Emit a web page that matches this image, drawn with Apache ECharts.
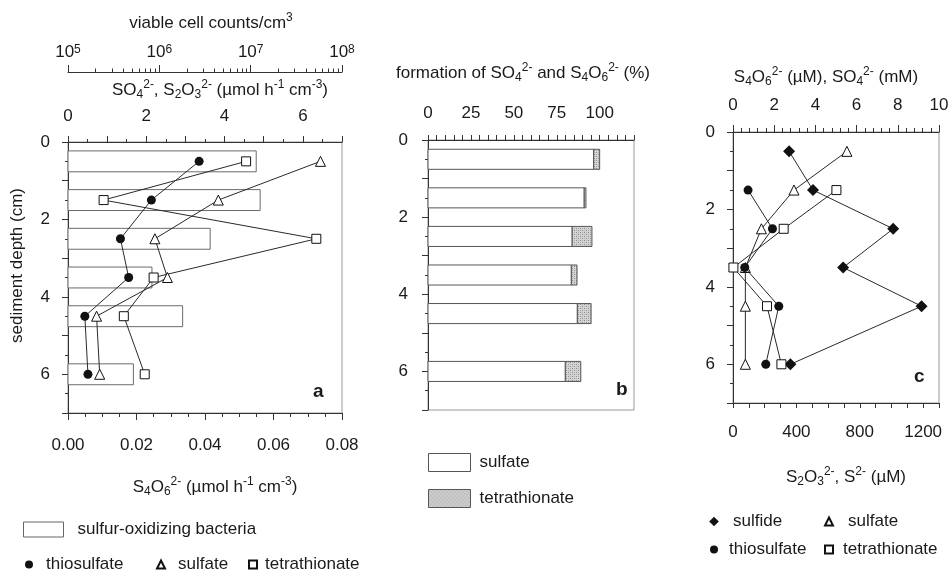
<!DOCTYPE html>
<html><head><meta charset="utf-8">
<script src="https://cdn.jsdelivr.net/npm/echarts@6/dist/echarts.min.js"></script>
<style>html,body{margin:0;padding:0;background:#fff}#chart{width:949px;height:571px}</style>
</head><body><div id="chart"></div>
<script>
// ---------- data ----------
// panel a
const depthA = [0.5, 1.5, 2.5, 3.5, 4.5, 6];
const bacteriaCounts = [1.15e7, 1.27e7, 3.6e6, 8.3e5, 1.8e6, 5.2e5];   // viable cell counts / cm3
const thiosulfateRateA = [3.35, 2.13, 1.34, 1.55, 0.43, 0.51];          // µmol h-1 cm-3
const sulfateRateA = [6.45, 3.84, 2.22, 2.54, 0.73, 0.81];              // µmol h-1 cm-3
const tetrathionateRateA = [0.052, 0.0104, 0.0725, 0.025, 0.0163, 0.0224]; // µmol h-1 cm-3
// panel b
const depthB = [0.5, 1.5, 2.5, 3.5, 4.5, 6];
const sulfatePctB = [96.5, 91, 84, 83.5, 87, 80];
const tetrathionatePctB = [3.5, 1, 11.5, 3.3, 8, 9];
// panel c
const depthC = [0.5, 1.5, 2.5, 3.5, 4.5, 6];
const sulfideC = [354, 505, 1011, 695, 1190, 362];       // µM
const sulfateC = [5.53, 2.96, 1.38, 0.6, 0.6, 0.6];      // mM
const depthC2 = [1.5, 2.5, 3.5, 4.5, 6];
const thiosulfateC = [95, 249, 74, 289, 207];            // µM
const tetrathionateC = [5.02, 2.46, 0.02, 1.65, 2.35];   // µM
// log-axis minor tick values (cell counts: 2..9 x each decade)
const logMinorTicks = [];
for (let e = 5; e < 8; e++) for (let m = 2; m < 10; m++) logMinorTicks.push(m * Math.pow(10, e));

// ---------- style ----------
const FONT = 'Liberation Sans, Arial, sans-serif';
const TC = '#1a1a1a';
const AX = '#333';
const FS = 17;
const RICH = {
  sub: {fontSize: 12, fontFamily: FONT, color: TC, verticalAlign: 'bottom', lineHeight: 12},
  sup: {fontSize: 12, fontFamily: FONT, color: TC, verticalAlign: 'top', lineHeight: 12}
};
// stippled grey fill for tetrathionate
const stipple = document.createElement('canvas');
stipple.width = 4; stipple.height = 4;
(function () {
  const g = stipple.getContext('2d');
  g.fillStyle = '#d4d4d4'; g.fillRect(0, 0, 4, 4);
  g.fillStyle = '#8c8c8c'; g.fillRect(0, 0, 1, 1); g.fillRect(2, 2, 1, 1);
  g.fillStyle = '#b0b0b0'; g.fillRect(2, 0, 1, 1); g.fillRect(0, 2, 1, 1);
})();
const STIPPLE = {image: stipple, repeat: 'repeat'};
const LOG_AXIS_OFFSET = 70;

function nameStyle(pad) {
  return {fontSize: FS, fontFamily: FONT, color: TC, lineHeight: 22, rich: RICH, padding: pad || 0};
}
function every(step, fmt) {
  return function (v) {
    const k = v / step;
    return Math.abs(k - Math.round(k)) < 1e-6 ? fmt(v) : '';
  };
}
function axisBase(o) {
  const base = {
    axisLine: {show: true, onZero: false, lineStyle: {color: AX, width: 1}},
    axisTick: {show: true, length: 5, lineStyle: {color: AX, width: 1}},
    splitLine: {show: false},
    axisLabel: {color: TC, fontSize: FS, fontFamily: FONT},
    nameTextStyle: nameStyle()
  };
  for (const k in o) {
    if (base[k] && typeof base[k] === 'object' && typeof o[k] === 'object' && !Array.isArray(o[k])) base[k] = Object.assign({}, base[k], o[k]);
    else base[k] = o[k];
  }
  return base;
}
function depthAxis(grid, margin, extra) {
  return axisBase(Object.assign({
    type: 'value', gridIndex: grid, min: 0, max: 7, interval: 1, inverse: true, position: 'left',
    axisTick: {length: 6},
    minorTick: {show: true, splitNumber: 2, length: 3, lineStyle: {color: AX}},
    axisLabel: {margin: margin, formatter: every(2, v => String(v))}
  }, extra || {}));
}
const zip = (xs, ys) => xs.map((x, i) => [x, ys[i]]);

const lineStyle = {color: '#2a2a2a', width: 1};
const filled = {color: '#111'};
const hollow = {color: '#fff', borderColor: '#111', borderWidth: 1};

const LEGEND_TEXT = {'sulfate (formation)': 'sulfate', 'tetrathionate (formation)': 'tetrathionate'};
function legendItem(name, left, top, w, h, pad, extra) {
  return {
    data: [Object.assign({name: name}, extra || {})],
    left: left, top: top, itemWidth: w, itemHeight: h, padding: 0, itemGap: 0,
    lineStyle: {opacity: 0},
    formatter: n => (LEGEND_TEXT[n] || n),
    textStyle: {fontSize: FS, fontFamily: FONT, color: TC, padding: [0, 0, 0, pad]}
  };
}
function hRect(api, x0, x1, d, half, style) {
  const p0 = api.coord([x0, d - half]);
  const p1 = api.coord([x1, d + half]);
  return {type: 'rect', shape: {x: p0[0], y: p0[1], width: p1[0] - p0[0], height: p1[1] - p0[1]}, style: style};
}

const chart = echarts.init(document.getElementById('chart'), null, {renderer: 'canvas'});
const gridBase = {show: true, borderColor: '#999', borderWidth: 1, backgroundColor: 'transparent', containLabel: false, outerBoundsMode: 'none'};
const option = {
  animation: false,
  backgroundColor: '#fff',
  textStyle: {fontFamily: FONT},
  tooltip: {show: false},
  grid: [
    Object.assign({left: 68, top: 142, width: 274, height: 271}, gridBase),
    Object.assign({left: 428, top: 140, width: 206, height: 270}, gridBase),
    Object.assign({left: 733, top: 132, width: 206, height: 271}, gridBase)
  ],
  xAxis: [
    // 0: panel a, top, SO4/S2O3 rates
    axisBase({
      type: 'value', gridIndex: 0, position: 'top', min: 0, max: 7, interval: 1,
      axisTick: {length: 6},
      minorTick: {show: true, splitNumber: 2, length: 3, lineStyle: {color: AX}},
      axisLabel: {margin: 17, formatter: every(2, v => String(v))},
      name: 'SO{sub|4}{sup|2-}, S{sub|2}O{sub|3}{sup|2-} (µmol h{sup|-1} cm{sup|-3})',
      nameLocation: 'middle', nameGap: 41, nameTextStyle: nameStyle([0, 0, 0, 30])
    }),
    // 1: panel a, log cell counts
    axisBase({
      type: 'log', logBase: 10, gridIndex: 0, position: 'top', offset: LOG_AXIS_OFFSET, min: 1e5, max: 1e8,
      axisTick: {length: 7},
      axisLabel: {margin: 11, rich: RICH,
        formatter: v => '10{sup|' + Math.round(Math.log10(v)) + '}'},
      name: 'viable cell counts/cm{sup|3}',
      nameLocation: 'middle', nameGap: 38, nameTextStyle: nameStyle([0, 0, 0, 12])
    }),
    // 2: panel a, bottom, S4O6 rate
    axisBase({
      type: 'value', gridIndex: 0, position: 'bottom', min: 0, max: 0.08, interval: 0.02,
      axisTick: {length: 7},
      minorTick: {show: true, splitNumber: 4, length: 4, lineStyle: {color: AX}},
      axisLabel: {margin: 24, formatter: v => v.toFixed(2)},
      name: 'S{sub|4}O{sub|6}{sup|2-} (µmol h{sup|-1} cm{sup|-3})',
      nameLocation: 'middle', nameGap: 63, nameTextStyle: nameStyle([0, 0, 0, 20])
    }),
    // 3: panel b, top, formation %
    axisBase({
      type: 'value', gridIndex: 1, position: 'top', min: 0, max: 120, interval: 5,
      axisTick: {length: 5},
      axisLabel: {margin: 18, formatter: every(25, v => String(v))},
      name: 'formation of SO{sub|4}{sup|2-} and S{sub|4}O{sub|6}{sup|2-} (%)',
      nameLocation: 'middle', nameGap: 56, nameTextStyle: nameStyle([0, 16, 0, 0])
    }),
    // 4: panel c, top, S4O6 (µM), SO4 (mM)
    axisBase({
      type: 'value', gridIndex: 2, position: 'top', min: 0, max: 10, interval: 2,
      axisTick: {length: 7},
      minorTick: {show: true, splitNumber: 5, length: 4, lineStyle: {color: AX}},
      axisLabel: {margin: 18},
      name: 'S{sub|4}O{sub|6}{sup|2-} (µM), SO{sub|4}{sup|2-} (mM)',
      nameLocation: 'middle', nameGap: 44, nameTextStyle: nameStyle([0, 20, 0, 0])
    }),
    // 5: panel c, bottom, S2O3, S2- (µM)
    axisBase({
      type: 'value', gridIndex: 2, position: 'bottom', min: 0, max: 1300, interval: 100,
      axisTick: {length: 5},
      axisLabel: {margin: 21, formatter: every(400, v => String(v))},
      name: 'S{sub|2}O{sub|3}{sup|2-}, S{sup|2-} (µM)',
      nameLocation: 'middle', nameGap: 63, nameTextStyle: nameStyle([0, 0, 0, 20])
    })
  ],
  yAxis: [
    depthAxis(0, 18, {name: 'sediment depth (cm)', nameLocation: 'middle', nameGap: 40, nameRotate: 90,
      nameTextStyle: nameStyle([0, 0, 0, 24])}),
    depthAxis(1, 20),
    depthAxis(2, 18)
  ],
  series: [
    // panel a: minor ticks of the logarithmic cell-count axis, placed through the log scale
    {
      type: 'custom', name: 'log minor ticks', xAxisIndex: 1, yAxisIndex: 0, silent: true, clip: false, z: 5,
      data: logMinorTicks.map(v => [v, 0]),
      renderItem: (params, api) => {
        const p = api.coord([api.value(0), api.value(1)]);
        const x = Math.round(p[0]) + 0.5;
        const y = Math.round(p[1] - LOG_AXIS_OFFSET) + 0.5;
        return {type: 'line', shape: {x1: x, y1: y, x2: x, y2: y - 4}, style: {stroke: AX, lineWidth: 1}};
      }
    },
    {
      type: 'custom', name: 'sulfur-oxidizing bacteria', xAxisIndex: 1, yAxisIndex: 0, z: 1,
      itemStyle: {color: '#fff', borderColor: '#666'},
      data: zip(bacteriaCounts, depthA),
      renderItem: (params, api) => hRect(api, 1e5, api.value(0), api.value(1), 0.27,
        {fill: '#fff', stroke: '#6a6a6a', lineWidth: 1})
    },
    {type: 'line', name: 'thiosulfate', xAxisIndex: 0, yAxisIndex: 0, z: 3, data: zip(thiosulfateRateA, depthA),
      symbol: 'circle', symbolSize: 9, itemStyle: filled, lineStyle: lineStyle},
    {type: 'line', name: 'sulfate', xAxisIndex: 0, yAxisIndex: 0, z: 3, data: zip(sulfateRateA, depthA),
      symbol: 'triangle', symbolSize: 10, itemStyle: hollow, lineStyle: lineStyle},
    {type: 'line', name: 'tetrathionate', xAxisIndex: 2, yAxisIndex: 0, z: 3, data: zip(tetrathionateRateA, depthA),
      symbol: 'rect', symbolSize: 9, itemStyle: hollow, lineStyle: lineStyle},
    // panel b
    {
      type: 'custom', name: 'sulfate (formation)', xAxisIndex: 3, yAxisIndex: 1, z: 2,
      itemStyle: {color: '#fff', borderColor: '#555'},
      data: depthB.map((d, i) => [0, sulfatePctB[i], d]),
      renderItem: (params, api) => hRect(api, api.value(0), api.value(1), api.value(2), 0.26,
        {fill: '#fff', stroke: '#555', lineWidth: 1})
    },
    {
      type: 'custom', name: 'tetrathionate (formation)', xAxisIndex: 3, yAxisIndex: 1, z: 2,
      itemStyle: {color: '#c4c4c4', borderColor: '#555'},
      data: depthB.map((d, i) => [sulfatePctB[i], sulfatePctB[i] + tetrathionatePctB[i], d]),
      renderItem: (params, api) => hRect(api, api.value(0), api.value(1), api.value(2), 0.26,
        {fill: STIPPLE, stroke: '#555', lineWidth: 1})
    },
    // panel c
    {type: 'line', name: 'sulfide', xAxisIndex: 5, yAxisIndex: 2, z: 3, data: zip(sulfideC, depthC),
      symbol: 'diamond', symbolSize: 12, itemStyle: filled, lineStyle: lineStyle},
    {type: 'line', name: 'sulfate', xAxisIndex: 4, yAxisIndex: 2, z: 3, data: zip(sulfateC, depthC),
      symbol: 'triangle', symbolSize: 10, itemStyle: hollow, lineStyle: lineStyle},
    {type: 'line', name: 'tetrathionate', xAxisIndex: 4, yAxisIndex: 2, z: 4, data: zip(tetrathionateC, depthC2),
      symbol: 'rect', symbolSize: 9, itemStyle: hollow, lineStyle: lineStyle},
    {type: 'line', name: 'thiosulfate', xAxisIndex: 5, yAxisIndex: 2, z: 5, data: zip(thiosulfateC, depthC2),
      symbol: 'circle', symbolSize: 9, itemStyle: filled, lineStyle: lineStyle}
  ],
  legend: [
    legendItem('sulfur-oxidizing bacteria', 23, 521, 40, 15, 9,
      {icon: 'rect', itemStyle: {color: '#fff', borderColor: '#666', borderWidth: 1}}),
    legendItem('thiosulfate', 21, 556, 14, 10, 5),
    legendItem('sulfate', 153, 556, 14, 10, 5),
    legendItem('tetrathionate', 245, 556, 14, 10, 0),
    legendItem('sulfate (formation)', 428, 453, 42, 18, 4,
      {icon: 'rect', itemStyle: {color: '#fff', borderColor: '#555', borderWidth: 1}}),
    legendItem('tetrathionate (formation)', 428, 489, 42, 18, 4,
      {icon: 'rect', itemStyle: {color: STIPPLE, borderColor: '#555', borderWidth: 1}}),
    legendItem('sulfide', 706, 513, 14, 12, 7),
    legendItem('sulfate', 821, 513, 14, 10, 7),
    legendItem('thiosulfate', 706, 541, 14, 10, 3),
    legendItem('tetrathionate', 821, 541, 14, 10, 2)
  ],
  graphic: [
    {type: 'text', left: 313, top: 382, style: {text: 'a', font: 'bold 19px ' + FONT, fill: TC}},
    {type: 'text', left: 616, top: 380, style: {text: 'b', font: 'bold 19px ' + FONT, fill: TC}},
    {type: 'text', left: 914, top: 367, style: {text: 'c', font: 'bold 19px ' + FONT, fill: TC}}
  ]
};
chart.setOption(option);
</script>
</body></html>
